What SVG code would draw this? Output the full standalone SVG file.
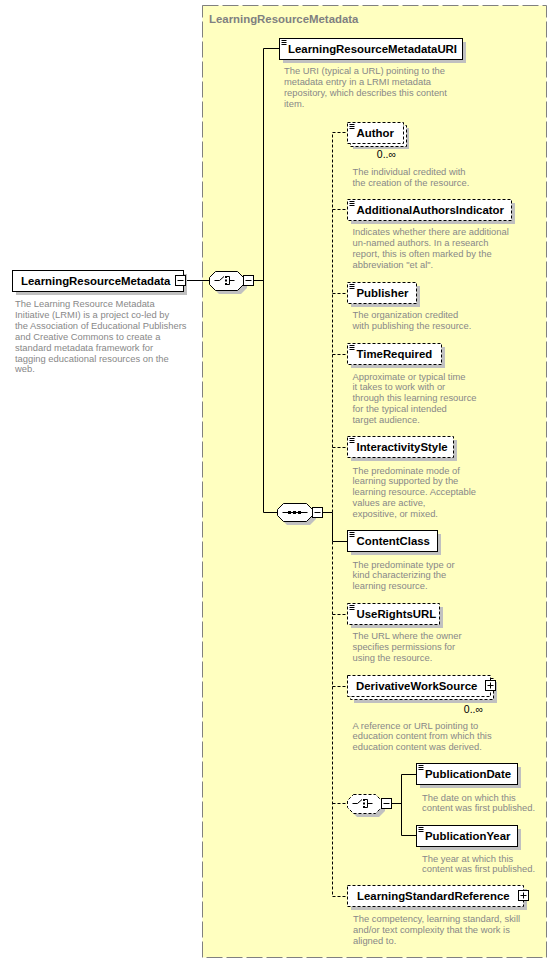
<svg xmlns="http://www.w3.org/2000/svg" width="557" height="963" viewBox="0 0 557 963">
<defs>
<style>
.bg{fill:#ffffc0;stroke:#808080;stroke-dasharray:16,4}
.title{font-family:"Liberation Sans",Arial,sans-serif;font-weight:bold;font-size:11.4px;fill:#808080}
.box{fill:#fff;stroke:#000}
.obox{fill:#fff;stroke:#000;stroke-dasharray:3,2}
.sh{fill:#c0c0c0}
.lbl{font-family:"Liberation Sans",Arial,sans-serif;font-weight:bold;font-size:11.4px;fill:#000}
.desc{font-family:"Liberation Sans",Arial,sans-serif;font-size:9.4px;fill:#888}
.occ{font-family:"Liberation Sans",Arial,sans-serif;font-size:10.5px;fill:#000}
.c{stroke:#000;fill:none}
.dc{stroke:#000;fill:none;stroke-dasharray:3,2}
.ic{stroke:#000;fill:none}
</style>
<g id="simpleIcon"><path class="ic" d="M2,2H7M2,4H7M2,6H7"/></g>
<g id="minus"><rect class="box" x="0" y="0" width="10" height="10"/><path class="c" d="M2,5H8"/></g>
<g id="plus"><rect class="box" x="0" y="0" width="10" height="10"/><path class="c" d="M2,5H8M5,2V8"/></g>
</defs>

<rect class="bg" x="202.5" y="5.5" width="344" height="952"/>
<text class="title" x="209" y="23">LearningResourceMetadata</text>

<g id="connectors">
<path class="c" d="M185.5,280.5H209.5"/>
<path class="c" d="M253.5,280.5H263.5M263.5,48.5V512.5M263.5,48.5H279.5M263.5,512.5H277.5"/>
<path class="c" d="M322.5,512.5H332.5V541.5H347.5"/>
<path class="dc" d="M332.5,512.5V132.5H347.5M332.5,209.5H347.5M332.5,293.5H347.5M332.5,354.5H347.5M332.5,447.5H347.5"/>
<path class="dc" d="M332.5,541.5V896.5H347.5M332.5,614.5H347.5M332.5,686.5H347.5M332.5,803.5H347.5"/>
<path class="c" d="M391.5,803.5H401.5M401.5,774.5V835.5M401.5,774.5H416.5M401.5,835.5H416.5"/>
</g>

<g id="n-root">
<rect class="sh" x="16" y="274" width="171" height="21"/>
<rect class="box" x="12.5" y="270.5" width="171" height="21"/>
<text class="lbl" x="21" y="285">LearningResourceMetadata</text>
<use href="#minus" x="175.5" y="275.5"/>
<text class="desc" x="15"><tspan x="15" y="307">The Learning Resource Metadata</tspan><tspan x="15" y="317.9">Initiative (LRMI) is a project co-led by</tspan><tspan x="15" y="328.8">the Association of Educational Publishers</tspan><tspan x="15" y="339.7">and Creative Commons to create a</tspan><tspan x="15" y="350.6">standard metadata framework for</tspan><tspan x="15" y="361.5">tagging educational resources on the</tspan><tspan x="15" y="372.4">web.</tspan></text>
</g>

<g id="n-choice1">
<polygon class="sh" points="219,275 241,275 247,281 247,288 241,294 219,294 213,288 213,281"/>
<polygon class="box" points="215.5,271.5 237.5,271.5 243.5,277.5 243.5,284.5 237.5,290.5 215.5,290.5 209.5,284.5 209.5,277.5"/>
<path class="c" d="M214.5,280.5H219.5L224,276.5M226,276.5H229.5V284.5H226M229.5,280.5H234.5"/>
<rect x="225" y="276" width="2" height="2"/><rect x="225" y="279.5" width="2" height="2"/><rect x="225" y="283" width="2" height="2"/>
<use href="#minus" x="243.5" y="275.5"/>
</g>

<g id="n-uri">
<rect class="sh" x="283" y="42" width="183" height="21"/>
<rect class="box" x="279.5" y="38.5" width="183" height="21"/>
<use href="#simpleIcon" x="279.5" y="38.5"/>
<text class="lbl" x="288" y="53">LearningResourceMetadataURI</text>
<text class="desc"><tspan x="284" y="74">The URI (typical a URL) pointing to the</tspan><tspan x="284" y="85">metadata entry in a LRMI metadata</tspan><tspan x="284" y="96">repository, which describes this content</tspan><tspan x="284" y="107">item.</tspan></text>
</g>

<g id="n-seq">
<polygon class="sh" points="287,507 310,507 316,513 316,519 310,525 287,525 281,519 281,513"/>
<polygon class="box" points="283.5,503.5 306.5,503.5 312.5,509.5 312.5,515.5 306.5,521.5 283.5,521.5 277.5,515.5 277.5,509.5"/>
<path class="c" d="M282.5,512.5H307.5"/>
<rect x="288" y="511" width="3" height="3"/><rect x="293" y="511" width="3" height="3"/><rect x="298" y="511" width="3" height="3"/>
<use href="#minus" x="312.5" y="507.5"/>
</g>

<g id="n-author">
<rect class="sh" x="353" y="128" width="56" height="21"/>
<rect class="obox" x="350.5" y="125.5" width="56" height="21"/>
<rect class="obox" x="347.5" y="122.5" width="56" height="21"/>
<use href="#simpleIcon" x="347.5" y="122.5"/>
<text class="lbl" x="356.5" y="137">Author</text>
<text class="occ" x="396" y="158" text-anchor="end">0..∞</text>
<text class="desc"><tspan x="352.5" y="174.5">The individual credited with</tspan><tspan x="352.5" y="185.5">the creation of the resource.</tspan></text>
</g>

<g id="n-aai">
<rect class="sh" x="351" y="203" width="164" height="21"/>
<rect class="obox" x="347.5" y="199.5" width="164" height="21"/>
<use href="#simpleIcon" x="347.5" y="199.5"/>
<text class="lbl" x="356.5" y="214">AdditionalAuthorsIndicator</text>
<text class="desc"><tspan x="352.5" y="235">Indicates whether there are additional</tspan><tspan x="352.5" y="246">un-named authors. In a research</tspan><tspan x="352.5" y="257">report, this is often marked by the</tspan><tspan x="352.5" y="268">abbreviation "et al".</tspan></text>
</g>

<g id="n-publisher">
<rect class="sh" x="351" y="286" width="69" height="21"/>
<rect class="obox" x="347.5" y="282.5" width="69" height="21"/>
<use href="#simpleIcon" x="347.5" y="282.5"/>
<text class="lbl" x="356.5" y="297">Publisher</text>
<text class="desc"><tspan x="352.5" y="318">The organization credited</tspan><tspan x="352.5" y="329">with publishing the resource.</tspan></text>
</g>

<g id="n-time">
<rect class="sh" x="351" y="347" width="94" height="21"/>
<rect class="obox" x="347.5" y="343.5" width="94" height="21"/>
<use href="#simpleIcon" x="347.5" y="343.5"/>
<text class="lbl" x="356.5" y="358">TimeRequired</text>
<text class="desc"><tspan x="352.5" y="379.5">Approximate or typical time</tspan><tspan x="352.5" y="390.4">it takes to work with or</tspan><tspan x="352.5" y="401.3">through this learning resource</tspan><tspan x="352.5" y="412.2">for the typical intended</tspan><tspan x="352.5" y="423.1">target audience.</tspan></text>
</g>

<g id="n-interactivity">
<rect class="sh" x="351" y="440" width="106" height="21"/>
<rect class="obox" x="347.5" y="436.5" width="106" height="21"/>
<use href="#simpleIcon" x="347.5" y="436.5"/>
<text class="lbl" x="356.5" y="451">InteractivityStyle</text>
<text class="desc"><tspan x="352.5" y="473.5">The predominate mode of</tspan><tspan x="352.5" y="484.4">learning supported by the</tspan><tspan x="352.5" y="495.3">learning resource. Acceptable</tspan><tspan x="352.5" y="506.2">values are active,</tspan><tspan x="352.5" y="517.1">expositive, or mixed.</tspan></text>
</g>

<g id="n-contentclass">
<rect class="sh" x="351" y="534" width="90" height="21"/>
<rect class="box" x="347.5" y="530.5" width="90" height="21"/>
<use href="#simpleIcon" x="347.5" y="530.5"/>
<text class="lbl" x="356.5" y="545">ContentClass</text>
<text class="desc"><tspan x="352.5" y="567.5">The predominate type or</tspan><tspan x="352.5" y="578.4">kind characterizing the</tspan><tspan x="352.5" y="589.3">learning resource.</tspan></text>
</g>

<g id="n-userights">
<rect class="sh" x="351" y="607" width="92" height="21"/>
<rect class="obox" x="347.5" y="603.5" width="92" height="21"/>
<use href="#simpleIcon" x="347.5" y="603.5"/>
<text class="lbl" x="356.5" y="618">UseRightsURL</text>
<text class="desc"><tspan x="352.5" y="639.2">The URL where the owner</tspan><tspan x="352.5" y="650.1">specifies permissions for</tspan><tspan x="352.5" y="661">using the resource.</tspan></text>
</g>

<g id="n-derivative">
<rect class="sh" x="354" y="682" width="143" height="21"/>
<rect class="obox" x="350.5" y="678.5" width="143" height="21"/>
<rect class="obox" x="347.5" y="675.5" width="143" height="21"/>
<text class="lbl" x="356" y="690">DerivativeWorkSource</text>
<use href="#plus" x="485.5" y="680.5"/>
<text class="occ" x="483" y="713" text-anchor="end">0..∞</text>
<text class="desc"><tspan x="352.5" y="728.5">A reference or URL pointing to</tspan><tspan x="352.5" y="739.2">education content from which this</tspan><tspan x="352.5" y="749.9">education content was derived.</tspan></text>
</g>

<g id="n-choice2">
<polygon class="sh" points="357,798 379,798 385,804 385,811 379,817 357,817 351,811 351,804"/>
<polygon class="obox" points="353.5,794.5 375.5,794.5 381.5,800.5 381.5,807.5 375.5,813.5 353.5,813.5 347.5,807.5 347.5,800.5"/>
<path class="c" d="M352.5,803.5H357.5L362,799.5M364,799.5H367.5V807.5H364M367.5,803.5H372.5"/>
<rect x="363" y="799" width="2" height="2"/><rect x="363" y="802.5" width="2" height="2"/><rect x="363" y="806" width="2" height="2"/>
<use href="#minus" x="381.5" y="798.5"/>
</g>

<g id="n-pubdate">
<rect class="sh" x="420" y="767" width="101" height="21"/>
<rect class="box" x="416.5" y="763.5" width="101" height="21"/>
<use href="#simpleIcon" x="416.5" y="763.5"/>
<text class="lbl" x="425" y="778">PublicationDate</text>
<text class="desc"><tspan x="422" y="800.5">The date on which this</tspan><tspan x="422" y="811.2">content was first published.</tspan></text>
</g>

<g id="n-pubyear">
<rect class="sh" x="420" y="829" width="101" height="21"/>
<rect class="box" x="416.5" y="825.5" width="101" height="21"/>
<use href="#simpleIcon" x="416.5" y="825.5"/>
<text class="lbl" x="425" y="840">PublicationYear</text>
<text class="desc"><tspan x="422" y="861.5">The year at which this</tspan><tspan x="422" y="872.2">content was first published.</tspan></text>
</g>

<g id="n-lsr">
<rect class="sh" x="351" y="889" width="176" height="21"/>
<rect class="obox" x="347.5" y="885.5" width="176" height="21"/>
<text class="lbl" x="357" y="900">LearningStandardReference</text>
<use href="#plus" x="518.5" y="890.5"/>
<text class="desc"><tspan x="353" y="921.8">The competency, learning standard, skill</tspan><tspan x="353" y="932.7">and/or text complexity that the work is</tspan><tspan x="353" y="943.6">aligned to.</tspan></text>
</g>
</svg>
